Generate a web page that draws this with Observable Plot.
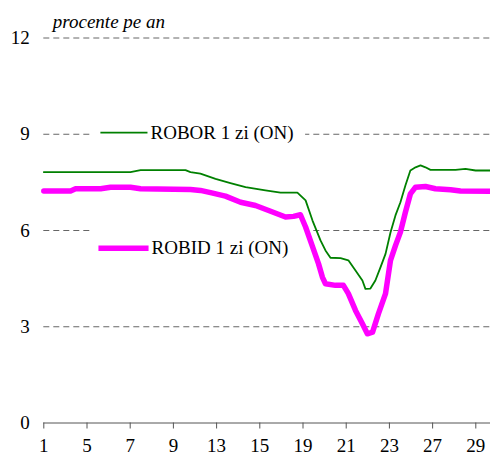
<!DOCTYPE html>
<html>
<head>
<meta charset="utf-8">
<script src="https://cdn.jsdelivr.net/npm/d3@7"></script>
<script src="https://cdn.jsdelivr.net/npm/@observablehq/plot@0.6"></script>
<style>
  html, body { margin: 0; padding: 0; background: #fff; }
</style>
</head>
<body>
<div id="chart"></div>
<script>
// Working days of the month (x positions are indices into this list)
const workDays = [1,2,5,6,7,8,9,12,13,14,15,16,19,20,21,22,23,26,27,28,29,30];
const tickIndex = [0,2,4,6,8,10,12,14,16,18,20];
const tickLabels = ["1","5","7","9","13","15","19","21","23","27","29"];
const yTicks = [0,3,6,9,12];

const seriesNames = ["ROBOR 1 zi (ON)", "ROBID 1 zi (ON)"];

// ROBOR 1 zi (ON) - day index (fractional) and value
const roborT = [0,4.01,4.48,6.56,6.79,7.25,7.95,8.64,9.34,10.26,10.96,11.74,12.12,12.44,12.81,13.04,13.27,13.74,14.10,14.43,14.75,14.89,15.12,15.35,15.59,15.82,16.05,16.28,16.51,16.74,16.97,17.21,17.44,17.67,17.9,19.06,19.52,19.99,20.68];
const roborV = [7.82,7.82,7.88,7.88,7.82,7.77,7.61,7.48,7.35,7.25,7.18,7.18,6.94,6.31,5.69,5.38,5.15,5.14,5.07,4.75,4.44,4.18,4.19,4.44,4.86,5.27,5.94,6.47,6.88,7.40,7.87,7.97,8.03,7.97,7.89,7.89,7.92,7.87,7.87];

// ROBID 1 zi (ON)
const robidT = [0,1.24,1.47,2.63,3.09,4.01,4.48,6.79,7.25,7.72,8.41,9.11,9.80,10.50,11.19,11.56,11.88,12.12,12.44,12.72,12.90,13.04,13.50,13.87,14.10,14.43,14.75,14.98,15.22,15.49,15.82,16.05,16.28,16.51,16.74,16.97,17.21,17.67,18.13,18.83,19.29,20.68];
const robidV = [7.23,7.23,7.30,7.30,7.35,7.35,7.30,7.28,7.25,7.18,7.07,6.88,6.78,6.60,6.42,6.44,6.49,6.11,5.50,4.96,4.54,4.34,4.29,4.29,4.03,3.51,3.09,2.78,2.83,3.40,4.03,5.07,5.53,5.95,6.57,7.14,7.35,7.37,7.30,7.27,7.23,7.22];

const robor = roborT.map((t, i) => ({t, v: roborV[i]}));
const robid = robidT.map((t, i) => ({t, v: robidV[i]}));

// Legend layout (in data units)
const legend = [
  {name: seriesNames[0], x1: 2.62, x2: 4.8, y: 9.05, color: "#008000", w: 1.8, bx1: 2.17, bx2: 12.12, by1: 8.7, by2: 9.4},
  {name: seriesNames[1], x1: 2.53, x2: 4.85, y: 5.45, color: "#ff00ff", w: 5.5, bx1: 2.17, bx2: 12.35, by1: 5.1, by2: 6.2}
];

const font = "Times New Roman";

const chart = Plot.plot({
  width: 490,
  height: 454,
  marginLeft: 43.3,
  marginRight: 0,
  marginTop: 37.5,
  marginBottom: 31.5,
  style: {fontSize: "19px"},
  x: {domain: [0, 20.68]},
  y: {domain: [0, 12]},
  marks: [
    Plot.gridY(yTicks.filter(d => d > 0), {stroke: "#666", strokeOpacity: 1, strokeDasharray: "6,4", strokeWidth: 1}),
    Plot.rect(legend, {x1: "bx1", x2: "bx2", y1: "by1", y2: "by2", fill: "#fff"}),
    Plot.axisY(yTicks, {tickSize: 0, tickPadding: 14, fontSize: 19, fontFamily: font, label: null}),
    Plot.axisX(tickIndex, {tickSize: 6, tickPadding: 9, fontSize: 19, fontFamily: font, label: null, stroke: "#555",
      tickFormat: (d) => tickLabels[tickIndex.indexOf(d)]}),
    Plot.ruleY([0], {stroke: "#555", strokeWidth: 1}),
    Plot.link(legend, {x1: "x1", x2: "x2", y1: "y", y2: "y", stroke: "color", strokeWidth: "w"}),
    Plot.text(legend, {x: d => d.x2 + 0.14, y: "y", text: "name", textAnchor: "start", lineAnchor: "middle", fontSize: 19, fontFamily: font, fill: "#000"}),
    Plot.line(robor, {x: "t", y: "v", stroke: "#008000", strokeWidth: 1.8, strokeLinejoin: "round"}),
    Plot.line(robid, {x: "t", y: "v", stroke: "#ff00ff", strokeWidth: 5.5, strokeLinejoin: "round", strokeLinecap: "round"}),
    Plot.text(["procente pe an"], {frameAnchor: "top-left", dx: 9, dy: -16.5, textAnchor: "start", lineAnchor: "middle", fontStyle: "italic", fontSize: 19, fontFamily: font, fill: "#000"})
  ]
});
chart.setAttribute("font-family", font);
document.getElementById("chart").appendChild(chart);
</script>
</body>
</html>
